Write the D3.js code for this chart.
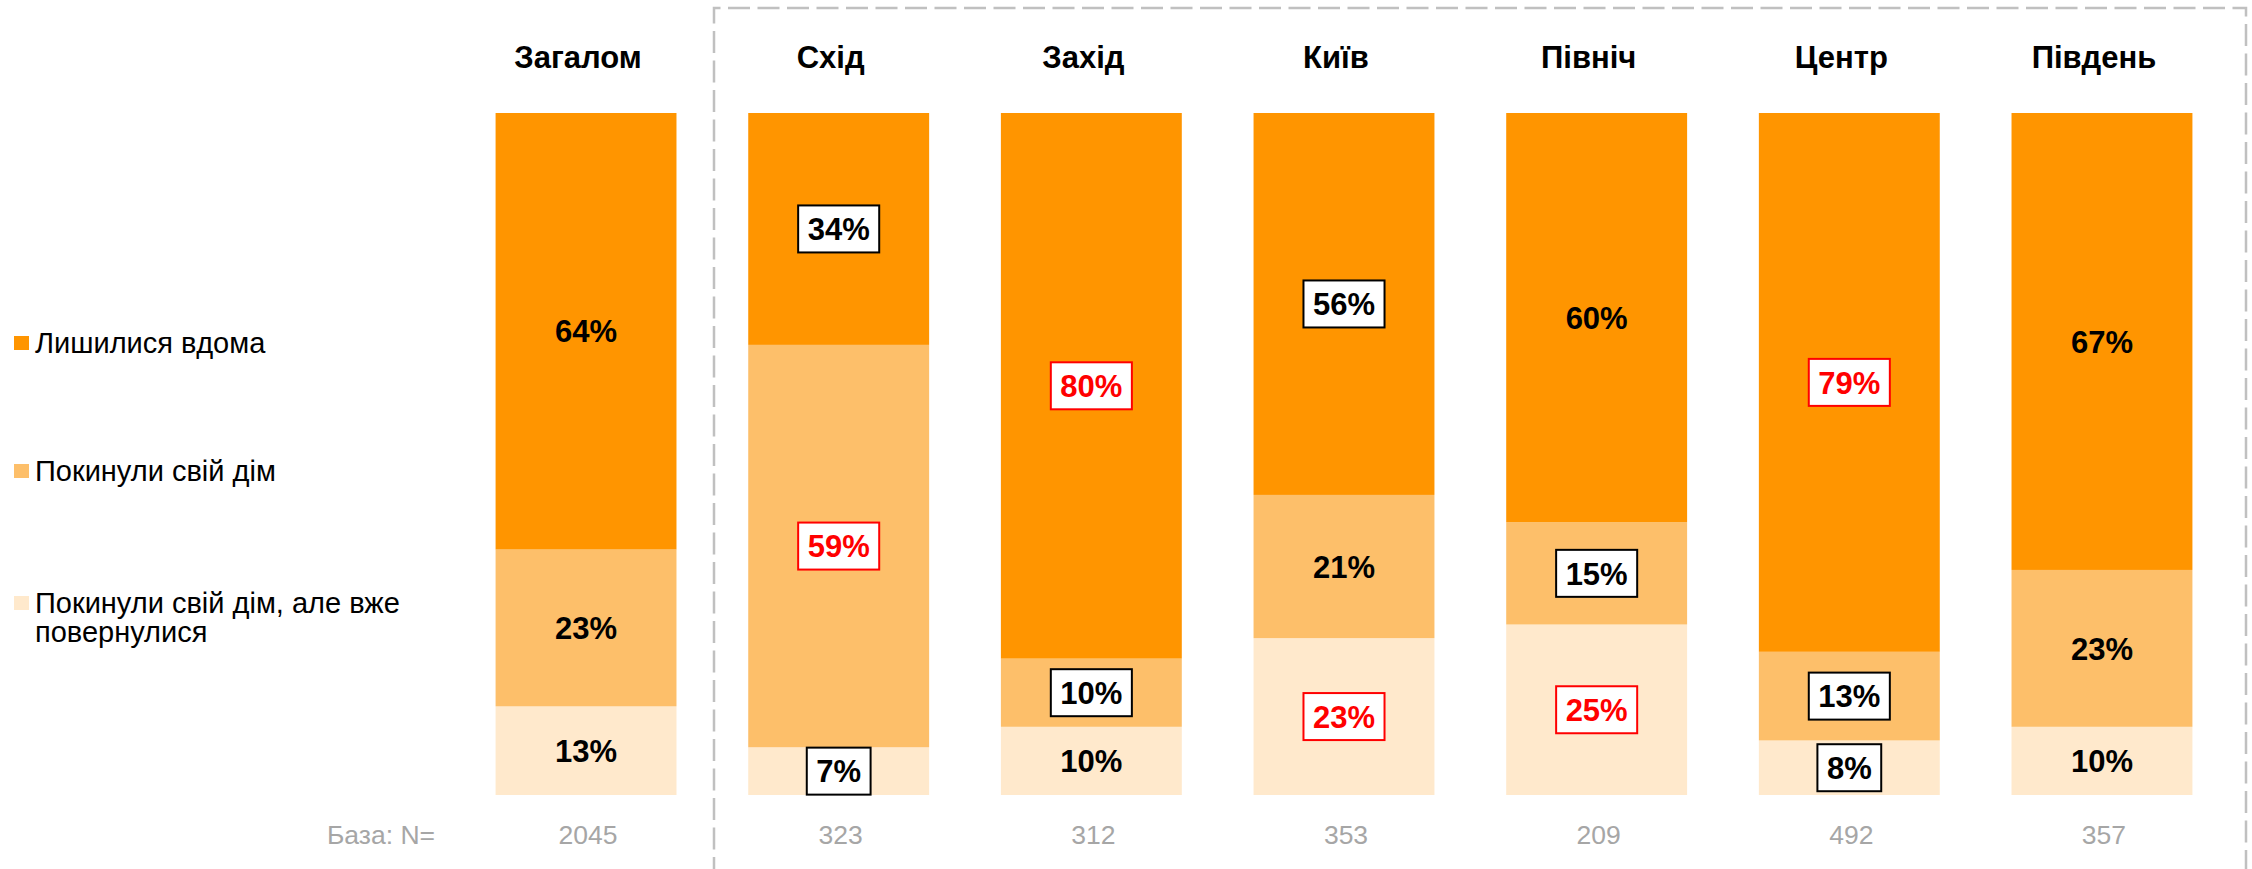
<!DOCTYPE html>
<html>
<head>
<meta charset="utf-8">
<script src="https://cdn.jsdelivr.net/npm/d3@7"></script>
<style>
  body { margin: 0; background: #fff; }
  svg { display: block; font-family: "Liberation Sans", Arial, sans-serif; }
</style>
</head>
<body>
<div id="chart"></div>
<script>
// regions
const categories = ["Загалом", "Схід", "Захід", "Київ", "Північ", "Центр", "Південь"];

// shares, %
const stayed   = [64, 34, 80, 56, 60, 79, 67];
const left     = [23, 59, 10, 21, 15, 13, 23];
const returned = [13, 7, 10, 23, 25, 8, 10];

// sample sizes
const base = [2045, 323, 312, 353, 209, 492, 357];

// label highlight: "plain", "box" (black frame), "red" (red frame)
const stayedMark   = ["plain", "box", "red", "box", "plain", "red", "plain"];
const leftMark     = ["plain", "red", "box", "plain", "box", "box", "plain"];
const returnedMark = ["plain", "box", "plain", "red", "red", "box", "plain"];

const seriesNames = ["Лишилися вдома", "Покинули свій дім", "Покинули свій дім, але вже повернулися"];
const keys = ["stayed", "left", "returned"];
const colors = { stayed: "#ff9500", left: "#fdbf6a", returned: "#ffe9cc" };

const W = 2252, H = 869;

const rows = categories.map((c, i) => ({
  cat: c,
  stayed: stayed[i], left: left[i], returned: returned[i],
  marks: { stayed: stayedMark[i], left: leftMark[i], returned: returnedMark[i] }
}));

const svg = d3.select("#chart").append("svg")
  .attr("width", W).attr("height", H);

const x = d3.scaleBand()
  .domain(categories)
  .range([459.7, 2228.3])
  .paddingInner(0.284)
  .paddingOuter(0.142);

const y = d3.scaleLinear()
  .domain([0, 100])
  .range([795, 113]);

// dashed frame round the regions
svg.append("path")
  .attr("d", `M714,${H + 10} V8 H2246 V${H + 10}`)
  .attr("fill", "none")
  .attr("stroke", "#c0c0c0")
  .attr("stroke-width", 2.5)
  .attr("stroke-dasharray", "22,7.5");

// stack bottom-up: returned, left, stayed
const stack = d3.stack().keys(["returned", "left", "stayed"]);
const layers = stack(rows);

const g = svg.append("g");

g.selectAll("g.layer")
  .data(layers)
  .join("g")
  .attr("class", "layer")
  .attr("fill", d => colors[d.key])
  .selectAll("rect")
  .data(d => d)
  .join("rect")
  .attr("x", d => x(d.data.cat))
  .attr("y", d => y(d[1]))
  .attr("width", x.bandwidth())
  .attr("height", d => y(d[0]) - y(d[1]));

// value labels
layers.forEach(layer => {
  layer.forEach(d => {
    const mark = d.data.marks[layer.key];
    const cx = x(d.data.cat) + x.bandwidth() / 2;
    const cy = y((d[0] + d[1]) / 2);
    const lg = g.append("g");
    const rect = lg.append("rect");
    const t = lg.append("text")
      .attr("x", cx)
      .attr("y", cy)
      .attr("dy", "0.36em")
      .attr("text-anchor", "middle")
      .attr("font-size", 31)
      .attr("font-weight", "bold")
      .attr("fill", mark === "red" ? "#ff0000" : "#000")
      .text(Math.round(d[1] - d[0]) + "%");
    if (mark === "plain") {
      rect.remove();
    } else {
      const tw = t.node().getComputedTextLength();
      rect.attr("x", cx - tw / 2 - 9.5)
        .attr("y", cy - 23.5)
        .attr("width", tw + 19)
        .attr("height", 47)
        .attr("fill", "#fff")
        .attr("stroke", mark === "red" ? "#ff0000" : "#000")
        .attr("stroke-width", 2);
    }
  });
});

// region titles
svg.append("g").selectAll("text")
  .data(categories)
  .join("text")
  .attr("x", d => x(d) + x.bandwidth() / 2 - 8)
  .attr("y", 68)
  .attr("text-anchor", "middle")
  .attr("font-size", 31)
  .attr("font-weight", "bold")
  .attr("fill", "#000")
  .text(d => d);

// base row
svg.append("text")
  .attr("x", 435)
  .attr("y", 844)
  .attr("text-anchor", "end")
  .attr("font-size", 26.5)
  .attr("fill", "#a6a6a6")
  .text("База: N=");

svg.append("g").selectAll("text")
  .data(categories)
  .join("text")
  .attr("x", d => x(d) + x.bandwidth() / 2 + 2)
  .attr("y", 844)
  .attr("text-anchor", "middle")
  .attr("font-size", 26.5)
  .attr("fill", "#a6a6a6")
  .text((d, i) => base[i]);

// legend
const legendY = [353, 481, 613];
const legend = svg.append("g");
keys.forEach((k, i) => {
  legend.append("rect")
    .attr("x", 14)
    .attr("y", legendY[i] - 17)
    .attr("width", 15)
    .attr("height", 14)
    .attr("fill", colors[k]);
});
legend.append("text").attr("x", 35).attr("y", legendY[0])
  .attr("font-size", 29).text(seriesNames[0]);
legend.append("text").attr("x", 35).attr("y", legendY[1])
  .attr("font-size", 29).text(seriesNames[1]);
const t3 = legend.append("text").attr("x", 35).attr("y", legendY[2])
  .attr("font-size", 29);
t3.append("tspan").attr("x", 35).text("Покинули свій дім, але вже");
t3.append("tspan").attr("x", 35).attr("dy", 29).text("повернулися");
</script>
</body>
</html>
